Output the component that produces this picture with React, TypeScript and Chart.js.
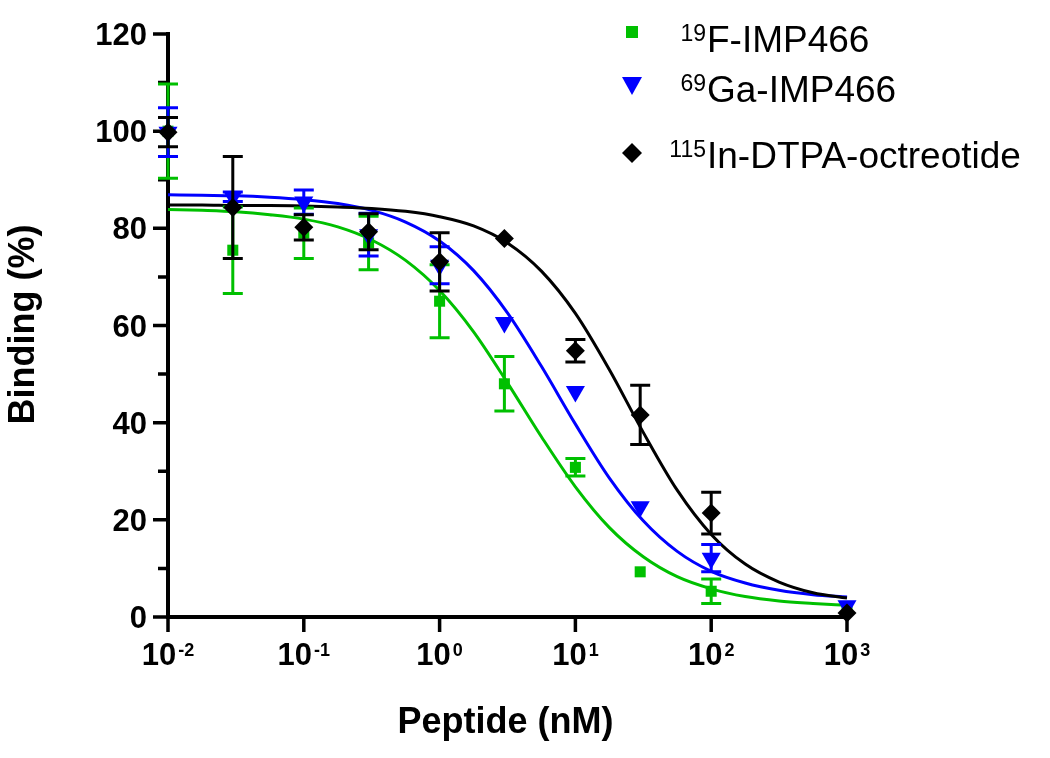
import React, { useEffect, useRef } from 'react';
import { Chart, registerables } from 'chart.js';

Chart.register(...registerables);

// ---- data ----
const concentrations = [0.01, 0.03, 0.1, 0.3, 1, 3, 10, 30, 100, 1000];
const f19Binding = [100, 75.5, 79, 77, 65, 48, 30.8, 9.3, 5.3, 1.5];
const f19Error = [9.7, 8.9, 5.2, 5.5, 7.5, 5.6, 1.8, 0, 2.5, 0];
const ga69Binding = [99.8, 86.5, 85.4, 78.7, 72.4, 60.6, 46.4, 22.7, 12.1, 2.3];
const ga69Error = [5, 1, 2.5, 4.4, 3.8, 0, 0, 0, 2.8, 0];
const in115Binding = [99.8, 84.3, 80.2, 79.3, 73.1, 77.9, 54.8, 41.6, 21.4, 0.8];
const in115Error = [3, 10.5, 2.6, 3.7, 6, 0, 2.3, 6.1, 4.3, 0];

const fitConcentrations = [0.01, 0.0178, 0.0316, 0.0562, 0.1, 0.178, 0.316, 0.562, 1, 1.78, 3.16, 5.62, 10, 17.8, 31.6, 56.2, 100, 178, 316, 562, 1000];
const f19Fit = [83.9, 83.7, 83.4, 82.8, 81.9, 80.3, 77.6, 73.4, 67.2, 58.7, 48.2, 37.1, 26.8, 18.4, 12.4, 8.3, 5.8, 4.2, 3.3, 2.8, 2.4];
const ga69Fit = [86.9, 86.8, 86.7, 86.4, 85.9, 85.1, 83.7, 81.3, 77.4, 71.3, 62.6, 51.6, 39.7, 28.6, 19.8, 13.5, 9.4, 7.0, 5.5, 4.6, 4.1];
const in115Fit = [84.8, 84.8, 84.7, 84.7, 84.6, 84.4, 84.1, 83.5, 82.4, 80.5, 77.0, 71.2, 62.5, 50.9, 38.0, 26.1, 17.0, 10.9, 7.2, 5.0, 3.9];

const yMajorTicks = [0, 20, 40, 60, 80, 100, 120];
const yMinorTicks = [10, 30, 50, 70, 90, 110];
const xTickValues = [0.01, 0.1, 1, 10, 100, 1000];
const xTickExponents = ['-2', '-1', '0', '1', '2', '3'];

const seriesIsotopes = ['19', '69', '115'];
const seriesNames = ['F-IMP466', 'Ga-IMP466', 'In-DTPA-octreotide'];
const seriesColors = ['#00C000', '#0000FF', '#000000'];

const xTitle = 'Peptide (nM)';
const yTitle = 'Binding (%)';

const FONT = "'Liberation Sans', Arial, sans-serif";

const toPoints = (xs: number[], ys: number[]) => xs.map((x, i) => ({ x, y: ys[i] }));

const errorBarPlugin = {
  id: 'errorBars',
  beforeDatasetDraw(chart: any, args: any) {
    const ds = chart.data.datasets[args.index];
    if (!ds.errors) return;
    const ctx = chart.ctx;
    const ys = chart.scales.y;
    ctx.save();
    ctx.strokeStyle = ds.errorColor;
    ctx.lineWidth = 3;
    ctx.lineCap = 'butt';
    args.meta.data.forEach((pt: any, i: number) => {
      const e = ds.errors[i];
      if (!e) return;
      const v = ds.data[i].y;
      const yt = ys.getPixelForValue(v + e);
      const yb = ys.getPixelForValue(v - e);
      const x = pt.x;
      ctx.beginPath();
      ctx.moveTo(x, yt);
      ctx.lineTo(x, yb);
      ctx.moveTo(x - 10, yt);
      ctx.lineTo(x + 10, yt);
      ctx.moveTo(x - 10, yb);
      ctx.lineTo(x + 10, yb);
      ctx.stroke();
    });
    ctx.restore();
  },
};

const axesPlugin = {
  id: 'customAxes',
  beforeDatasetsDraw(chart: any) {
    const { ctx, chartArea } = chart;
    const xs = chart.scales.x;
    const ys = chart.scales.y;
    const left = chartArea.left;
    const bottom = chartArea.bottom;
    ctx.save();
    ctx.strokeStyle = '#000';
    ctx.fillStyle = '#000';
    ctx.lineWidth = 4;
    ctx.beginPath();
    ctx.moveTo(left, ys.getPixelForValue(120) - 2);
    ctx.lineTo(left, bottom + 2);
    ctx.moveTo(left - 2, bottom);
    ctx.lineTo(xs.getPixelForValue(1000) + 2, bottom);
    ctx.stroke();

    ctx.lineWidth = 3.5;
    ctx.beginPath();
    yMajorTicks.forEach((v) => {
      const py = ys.getPixelForValue(v);
      ctx.moveTo(left - 15, py);
      ctx.lineTo(left, py);
    });
    yMinorTicks.forEach((v) => {
      const py = ys.getPixelForValue(v);
      ctx.moveTo(left - 10, py);
      ctx.lineTo(left, py);
    });
    xTickValues.forEach((v) => {
      const px = xs.getPixelForValue(v);
      ctx.moveTo(px, bottom);
      ctx.lineTo(px, bottom + 15);
    });
    ctx.stroke();

    // y tick labels
    ctx.font = `bold 31px ${FONT}`;
    ctx.textAlign = 'right';
    ctx.textBaseline = 'alphabetic';
    yMajorTicks.forEach((v) => {
      const py = ys.getPixelForValue(v);
      ctx.fillText(String(v), left - 21, py + 11);
    });

    // x tick labels with superscript exponents
    xTickValues.forEach((v, i) => {
      const px = xs.getPixelForValue(v);
      ctx.font = `bold 31px ${FONT}`;
      const wBase = ctx.measureText('10').width;
      ctx.font = `bold 18px ${FONT}`;
      const wExp = ctx.measureText(xTickExponents[i]).width;
      const total = wBase + 2 + wExp;
      const start = px - total / 2;
      ctx.textAlign = 'left';
      ctx.font = `bold 31px ${FONT}`;
      ctx.fillText('10', start, bottom + 48);
      ctx.font = `bold 18px ${FONT}`;
      ctx.fillText(xTickExponents[i], start + wBase + 2, bottom + 39);
    });

    // axis titles
    ctx.font = `bold 36px ${FONT}`;
    ctx.textAlign = 'center';
    ctx.fillText(xTitle, (left + chartArea.right) / 2 - 2, 733);
    ctx.save();
    ctx.translate(34, (chartArea.top + bottom) / 2 - 1);
    ctx.rotate(-Math.PI / 2);
    ctx.fillText(yTitle, 0, 0);
    ctx.restore();
    ctx.restore();
  },
};

const legendPlugin = {
  id: 'customLegend',
  afterDraw(chart: any) {
    const ctx = chart.ctx;
    const markerX = 632;
    const markerY = [32, 85, 153];
    const baselines = [52, 102, 168];
    ctx.save();
    seriesNames.forEach((name, i) => {
      ctx.fillStyle = seriesColors[i];
      const my = markerY[i];
      ctx.beginPath();
      if (i === 0) {
        ctx.rect(markerX - 6, my - 6, 12, 12);
      } else if (i === 1) {
        ctx.moveTo(markerX - 10, my - 8);
        ctx.lineTo(markerX + 10, my - 8);
        ctx.lineTo(markerX, my + 10);
        ctx.closePath();
      } else {
        ctx.moveTo(markerX, my - 10);
        ctx.lineTo(markerX + 10, my);
        ctx.lineTo(markerX, my + 10);
        ctx.lineTo(markerX - 10, my);
        ctx.closePath();
      }
      ctx.fill();
      ctx.fillStyle = '#000';
      ctx.textBaseline = 'alphabetic';
      ctx.font = `23px ${FONT}`;
      ctx.textAlign = 'right';
      ctx.fillText(seriesIsotopes[i], 706, baselines[i] - 11);
      ctx.font = `37px ${FONT}`;
      ctx.textAlign = 'left';
      ctx.fillText(name, 707, baselines[i]);
    });
    ctx.restore();
  },
};

export default function App() {
  const canvasRef = useRef<HTMLCanvasElement | null>(null);

  useEffect(() => {
    const canvas = canvasRef.current;
    if (!canvas) return;
    const fitStyle = (color: string, order: number) => ({
      type: 'line' as const,
      borderColor: color,
      backgroundColor: color,
      borderWidth: 3,
      pointRadius: 0,
      fill: false,
      showLine: true,
      cubicInterpolationMode: 'monotone' as const,
      clip: false as any,
      order,
    });
    const pointStyleDs = (
      data: number[],
      errors: number[],
      color: string,
      style: string,
      radius: number,
      rotation: number,
      order: number,
    ) => ({
      type: 'scatter' as const,
      data: toPoints(concentrations, data),
      errors,
      errorColor: color,
      showLine: false,
      pointStyle: style,
      pointRadius: radius,
      pointRotation: rotation,
      pointBackgroundColor: color,
      pointBorderColor: color,
      pointBorderWidth: 0,
      clip: false as any,
      order,
    });

    const chart = new Chart(canvas, {
      type: 'scatter',
      data: {
        datasets: [
          pointStyleDs(in115Binding, in115Error, seriesColors[2], 'rectRot', 9.5, 0, 0) as any,
          pointStyleDs(ga69Binding, ga69Error, seriesColors[1], 'triangle', 11, 180, 1) as any,
          pointStyleDs(f19Binding, f19Error, seriesColors[0], 'rect', 7.8, 0, 2) as any,
          { ...fitStyle(seriesColors[2], 3), data: toPoints(fitConcentrations, in115Fit) } as any,
          { ...fitStyle(seriesColors[1], 4), data: toPoints(fitConcentrations, ga69Fit) } as any,
          { ...fitStyle(seriesColors[0], 5), data: toPoints(fitConcentrations, f19Fit) } as any,
        ],
      },
      options: {
        animation: false,
        responsive: false,
        devicePixelRatio: 1,
        layout: { padding: { left: 168, top: 34, right: 203, bottom: 141 } },
        plugins: { legend: { display: false }, tooltip: { enabled: false } },
        scales: {
          x: { type: 'logarithmic', min: 0.01, max: 1000, display: false },
          y: { type: 'linear', min: 0, max: 120, display: false },
        },
      },
      plugins: [axesPlugin, errorBarPlugin, legendPlugin],
    });
    return () => chart.destroy();
  }, []);

  return (
    <div style={{ position: 'absolute', left: 0, top: 0, width: 1050, height: 758, background: '#fff' }}>
      <canvas ref={canvasRef} width={1050} height={758} style={{ width: 1050, height: 758 }} />
    </div>
  );
}
